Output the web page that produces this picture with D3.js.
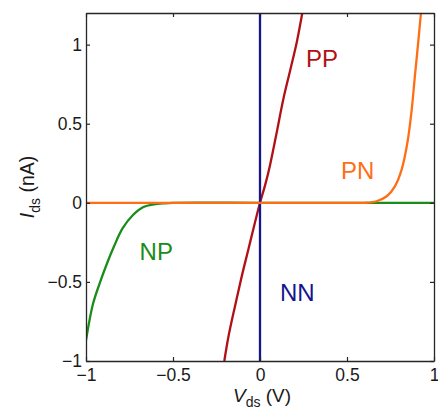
<!DOCTYPE html>
<html>
<head>
<meta charset="utf-8">
<script src="https://cdn.jsdelivr.net/npm/d3@7"></script>
<style>
  body { margin: 0; background: #fff; }
  svg { display: block; font-family: "Liberation Sans", Arial, sans-serif; }
</style>
</head>
<body>
<div id="chart"></div>
<script>
// NN: vertical line at Vds = 0
const nnV = [0, 0];
const nnI = [-1, 1.2];

// PP
const ppV = [-0.205, -0.182, -0.144, -0.105, -0.067, -0.029, 0, 0.029, 0.057, 0.096, 0.134, 0.175, 0.211, 0.243];
const ppI = [-1, -0.85, -0.655, -0.465, -0.295, -0.125, 0, 0.11, 0.235, 0.445, 0.655, 0.845, 1.014, 1.2];

// PN
const pnV = [-1, -0.5, 0, 0.5, 0.6, 0.67, 0.73, 0.776, 0.814, 0.847, 0.872, 0.89, 0.908, 0.925];
const pnI = [0, 0, 0, 0, 0, 0.01, 0.043, 0.106, 0.21, 0.38, 0.59, 0.8, 1.0, 1.2];

// NP
const npV = [-1, -0.96, -0.92, -0.88, -0.84, -0.79, -0.73, -0.67, -0.61, -0.55, -0.5, 0, 0.5, 1];
const npI = [-0.87, -0.64, -0.505, -0.385, -0.278, -0.162, -0.077, -0.027, -0.01, -0.003, 0, 0, 0, 0];

const xTicks = [-1, -0.5, 0, 0.5, 1];
const yTicks = [-1, -0.5, 0, 0.5, 1];

const W = 438, H = 409;
const margin = { top: 13, right: 4, bottom: 48, left: 86 };
const width = W - margin.left - margin.right;
const height = H - margin.top - margin.bottom;
const axisColor = "#262626";

const svg = d3.select("#chart").append("svg")
  .attr("width", W)
  .attr("height", H);

const g = svg.append("g")
  .attr("transform", `translate(${margin.left},${margin.top})`);

const x = d3.scaleLinear().domain([-1, 1]).range([0, width]);
const y = d3.scaleLinear().domain([-1, 1.2]).range([height, 0]);

g.append("defs").append("clipPath")
  .attr("id", "plot-clip")
  .append("rect")
  .attr("width", width)
  .attr("height", height);

const fmt = d3.format("~g");

const lineSmooth = d3.line()
  .x(d => x(d[0]))
  .y(d => y(d[1]))
  .curve(d3.curveCatmullRom.alpha(0.5));

const lineStraight = d3.line()
  .x(d => x(d[0]))
  .y(d => y(d[1]));

const curves = [
  { name: "NP", v: npV, i: npI, color: "#1a8c1a", gen: lineSmooth },
  { name: "PP", v: ppV, i: ppI, color: "#b01116", gen: lineSmooth },
  { name: "NN", v: nnV, i: nnI, color: "#15158f", gen: lineStraight },
  { name: "PN", v: pnV, i: pnI, color: "#ff6e14", gen: lineSmooth }
];

const plot = g.append("g").attr("clip-path", "url(#plot-clip)");

curves.forEach(c => {
  plot.append("path")
    .datum(c.v.map((v, k) => [v, c.i[k]]))
    .attr("fill", "none")
    .attr("stroke", c.color)
    .attr("stroke-width", 2.3)
    .attr("d", c.gen);
});

// axes (ticks pointing inward, box on all four sides)
const styleAxis = sel => {
  sel.select(".domain").attr("stroke", axisColor).attr("stroke-width", 1.3);
  sel.selectAll(".tick line").attr("stroke", axisColor).attr("stroke-width", 1.2);
  sel.selectAll(".tick text")
    .attr("fill", "#1a1a1a")
    .style("font-size", "17.5px");
};

g.append("g")
  .attr("transform", `translate(0,${height})`)
  .call(d3.axisBottom(x).tickValues(xTicks).tickFormat(fmt)
    .tickSizeInner(-4).tickSizeOuter(0).tickPadding(8))
  .call(styleAxis);

g.append("g")
  .call(d3.axisLeft(y).tickValues(yTicks).tickFormat(fmt)
    .tickSizeInner(-4).tickSizeOuter(0).tickPadding(4))
  .call(styleAxis);

g.append("g")
  .call(d3.axisTop(x).tickValues(xTicks).tickFormat("")
    .tickSizeInner(-4).tickSizeOuter(0))
  .call(styleAxis);

g.append("g")
  .attr("transform", `translate(${width},0)`)
  .call(d3.axisRight(y).tickValues(yTicks).tickFormat("")
    .tickSizeInner(-4).tickSizeOuter(0))
  .call(styleAxis);

// curve labels
const labels = [
  { text: "PP", v: 0.265, i: 0.86, color: "#b01116" },
  { text: "PN", v: 0.465, i: 0.148, color: "#ff6e14" },
  { text: "NP", v: -0.692, i: -0.36, color: "#1a8c1a" },
  { text: "NN", v: 0.115, i: -0.62, color: "#15158f" }
];

g.selectAll(".curve-label")
  .data(labels)
  .enter().append("text")
  .attr("class", "curve-label")
  .attr("x", d => x(d.v))
  .attr("y", d => y(d.i))
  .attr("fill", d => d.color)
  .style("font-size", "24px")
  .text(d => d.text);

// X-axis label
const xl = svg.append("text")
  .attr("x", margin.left + width / 2 + 2)
  .attr("y", 402)
  .attr("text-anchor", "middle")
  .attr("fill", "#1a1a1a")
  .style("font-size", "19px");
xl.append("tspan").style("font-style", "italic").text("V");
xl.append("tspan").attr("dy", 5).style("font-size", "14px").text("ds");
xl.append("tspan").attr("dy", -5).text(" (V)");

// Y-axis label
const yl = svg.append("text")
  .attr("transform", `translate(34,${margin.top + height / 2}) rotate(-90)`)
  .attr("text-anchor", "middle")
  .attr("fill", "#1a1a1a")
  .style("font-size", "19.5px");
yl.append("tspan").style("font-style", "italic").text("I");
yl.append("tspan").attr("dy", 6).style("font-size", "14px").text("ds");
yl.append("tspan").attr("dy", -6).text(" (nA)");
</script>
</body>
</html>
